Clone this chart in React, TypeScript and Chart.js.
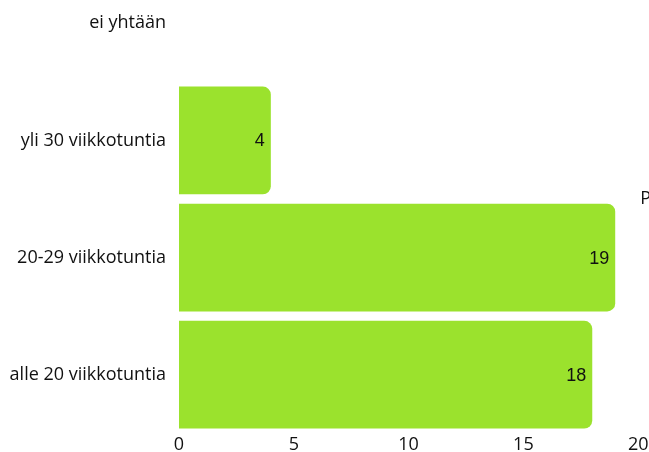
import React, { useEffect, useRef } from "react";
import { Chart, registerables } from "chart.js";

Chart.register(...registerables);

const categories = ["ei yhtään", "yli 30 viikkotuntia", "20-29 viikkotuntia", "alle 20 viikkotuntia"];
const values = [0, 4, 19, 18];
const xTicks = [0, 5, 10, 15, 20];
const seriesLabel = "P";

const BAR_COLOR = "#9be22d";
const FONT = "'Open Sans', sans-serif";

const valueLabels = {
  id: "valueLabels",
  afterDatasetsDraw(chart: any) {
    const ctx = chart.ctx;
    const meta = chart.getDatasetMeta(0);
    ctx.save();
    ctx.font = "18px 'Liberation Sans', Arial, sans-serif";
    ctx.fillStyle = "#111";
    ctx.textAlign = "right";
    ctx.textBaseline = "middle";
    meta.data.forEach((bar: any, i: number) => {
      const v = chart.data.datasets[0].data[i];
      if (!v) return;
      ctx.fillText(String(v), bar.x - 6, bar.y + 1);
    });
    ctx.restore();
  },
};

export default function App() {
  const ref = useRef<HTMLCanvasElement>(null);
  useEffect(() => {
    if (!ref.current) return;
    const defaultGen = (Chart.defaults as any).plugins.legend.labels.generateLabels;
    const chart = new Chart(ref.current, {
      type: "bar",
      data: {
        labels: categories,
        datasets: [
          {
            label: seriesLabel,
            data: values,
            backgroundColor: BAR_COLOR,
            borderRadius: 8,
            borderSkipped: "start",
            barPercentage: 0.92,
            categoryPercentage: 1,
          },
        ],
      },
      options: {
        indexAxis: "y",
        animation: false,
        responsive: true,
        maintainAspectRatio: false,
        layout: { padding: { top: 0, right: 0, bottom: 0, left: 0 } },
        plugins: {
          legend: {
            display: true,
            position: "right",
            labels: {
              boxWidth: -7,
              boxHeight: 0,
              padding: 0,
              color: "#111",
              font: { family: FONT, size: 18 },
              generateLabels: (c: any) =>
                defaultGen(c).map((l: any) => ({ ...l, fillStyle: "rgba(0,0,0,0)", strokeStyle: "rgba(0,0,0,0)", lineWidth: 0 })),
            },
          },
          tooltip: { enabled: false },
        },
        scales: {
          x: {
            min: 0,
            max: 20,
            afterBuildTicks: (axis: any) => {
              axis.ticks = xTicks.map((v) => ({ value: v }));
            },
            grid: { display: false, drawTicks: false },
            border: { display: false },
            ticks: { color: "#111", padding: 1, font: { family: FONT, size: 18 } },
          },
          y: {
            afterFit: (axis: any) => {
              axis.width = 171;
            },
            grid: { display: false, drawTicks: false },
            border: { display: false },
            ticks: { color: "#111", padding: 13, font: { family: FONT, size: 18 } },
          },
        },
      },
      plugins: [valueLabels],
    });
    return () => chart.destroy();
  }, []);
  return (
    <div style={{ position: "fixed", left: 0, top: 0, width: 649, height: 452, overflow: "hidden" }}>
      <div style={{ position: "absolute", left: 8, top: -59, width: 653, height: 516 }}>
        <canvas ref={ref} />
      </div>
    </div>
  );
}
